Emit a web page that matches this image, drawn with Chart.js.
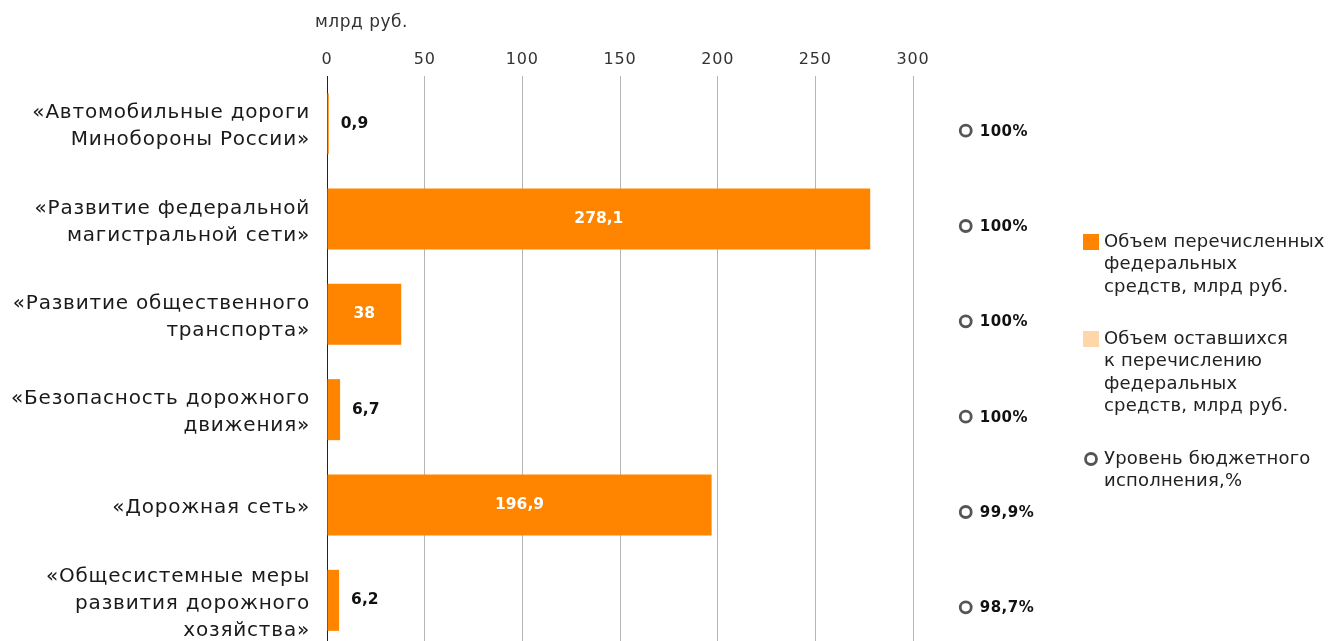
<!DOCTYPE html>
<html><head><meta charset="utf-8">
<script src="https://cdn.jsdelivr.net/npm/chart.js@4.4.1/dist/chart.umd.min.js"></script>
<style>
html,body{margin:0;padding:0;background:#fff;overflow:hidden;}
#wrap{position:relative;width:1330px;height:648px;}
</style></head>
<body>
<div id="wrap"><canvas id="c"></canvas></div>
<script>
const FONT = "'DejaVu Sans', sans-serif";
const categories = [
  ["«Автомобильные дороги", "Минобороны России»"],
  ["«Развитие федеральной", "магистральной сети»"],
  ["«Развитие общественного", "транспорта»"],
  ["«Безопасность дорожного", "движения»"],
  ["«Дорожная сеть»"],
  ["«Общесистемные меры", "развития дорожного", "хозяйства»"]
];
const transferred = [0.9, 278.1, 38, 6.7, 196.9, 6.2];
const remaining = [0, 0, 0, 0, 0, 0];
const execution = [100, 100, 100, 100, 99.9, 98.7];
const xTicks = [0, 50, 100, 150, 200, 250, 300];
const axisUnit = "млрд руб.";
const legendLabels = [
  ["Объем перечисленных", "федеральных", "средств, млрд руб."],
  ["Объем оставшихся", "к перечислению", "федеральных", "средств, млрд руб."],
  ["Уровень бюджетного", "исполнения,%"]
];
const ORANGE = "#FF8500";
const LIGHT = "#FFD6AA";
const fmt = v => String(v).replace('.', ',');

const spacing = {
  id: 'spacing',
  beforeDraw(chart) { chart.ctx.letterSpacing = '0.8px'; },
  afterDraw(chart) { chart.ctx.letterSpacing = '0px'; }
};

const overlay = {
  id: 'overlay',
  afterDatasetsDraw(chart) {
    const ctx = chart.ctx;
    const xs = chart.scales.x, ys = chart.scales.y;
    const meta = chart.getDatasetMeta(0);
    ctx.save();
    ctx.letterSpacing = '0px';
    ctx.font = "bold 15.5px " + FONT;
    ctx.textBaseline = 'middle';
    meta.data.forEach((bar, i) => {
      const v = transferred[i];
      const w = Math.abs(bar.x - bar.base);
      if (w > 60) {
        ctx.fillStyle = '#fff';
        ctx.textAlign = 'center';
        ctx.fillText(fmt(v), (bar.x + bar.base) / 2, bar.y);
      } else {
        ctx.fillStyle = '#111';
        ctx.textAlign = 'left';
        ctx.fillText(fmt(v), bar.x + 12, bar.y);
      }
    });
    const cx = xs.getPixelForValue(327);
    ctx.letterSpacing = '0.5px';
    execution.forEach((p, i) => {
      const y = ys.getPixelForValue(i) + 7;
      ctx.beginPath();
      ctx.arc(cx, y, 5.5, 0, Math.PI * 2);
      ctx.lineWidth = 2.8;
      ctx.strokeStyle = '#555';
      ctx.stroke();
      ctx.fillStyle = '#111';
      ctx.textAlign = 'left';
      ctx.font = "bold 15px " + FONT;
      ctx.fillText(fmt(p) + '%', cx + 14, y + 1);
    });
    ctx.font = "17px " + FONT;
    ctx.letterSpacing = '0.5px';
    ctx.fillStyle = '#333';
    ctx.textAlign = 'left';
    ctx.fillText(axisUnit, xs.left - 12, 23);
    const lx = 1083, tx = 1104, lh = 22.5;
    const starts = [242, 339, 459];
    ctx.font = "18px " + FONT;
    ctx.letterSpacing = '0.2px';
    legendLabels.forEach((lines, k) => {
      const y0 = starts[k];
      if (k < 2) {
        ctx.fillStyle = k === 0 ? ORANGE : LIGHT;
        ctx.fillRect(lx, y0 - 8, 16, 16);
      } else {
        ctx.beginPath();
        ctx.arc(lx + 8, y0, 5.5, 0, Math.PI * 2);
        ctx.lineWidth = 2.8;
        ctx.strokeStyle = '#555';
        ctx.stroke();
      }
      ctx.fillStyle = '#222';
      lines.forEach((t, j) => ctx.fillText(t, tx, y0 + j * lh));
    });
    ctx.restore();
  }
};

new Chart(document.getElementById('c'), {
  type: 'bar',
  data: {
    labels: categories,
    datasets: [
      { label: legendLabels[0].join(' '), data: transferred, backgroundColor: ORANGE,
        categoryPercentage: 0.64, barPercentage: 1 },
      { label: legendLabels[1].join(' '), data: remaining, backgroundColor: LIGHT,
        categoryPercentage: 0.64, barPercentage: 1 }
    ]
  },
  options: {
    indexAxis: 'y',
    responsive: true,
    maintainAspectRatio: false,
    animation: false,
    layout: { padding: { top: 0, right: 417, bottom: 0, left: 0 } },
    plugins: { legend: { display: false }, tooltip: { enabled: false } },
    scales: {
      x: {
        position: 'top', stacked: true, min: 0, max: 300,
        afterBuildTicks: s => { s.ticks = xTicks.map(v => ({ value: v })); },
        ticks: { font: { family: FONT, size: 16 }, color: '#333', padding: 7 },
        grid: { drawTicks: false, color: c => c.tick && c.tick.value === 0 ? '#222' : '#b5b5b5', lineWidth: 1 },
        border: { display: false },
        afterFit: s => { s.height = 76; s.paddingLeft = 0; s.paddingRight = 0; }
      },
      y: {
        stacked: true,
        ticks: { font: { family: FONT, size: 20, lineHeight: 1.35 }, color: '#1a1a1a', padding: 17, labelOffset: 3 },
        grid: { display: false, drawTicks: false },
        border: { display: true, color: '#222' },
        afterFit: s => { s.width = 327; s.paddingTop = 0; s.paddingBottom = 0; }
      }
    }
  },
  plugins: [spacing, overlay]
});
</script>
</body></html>
